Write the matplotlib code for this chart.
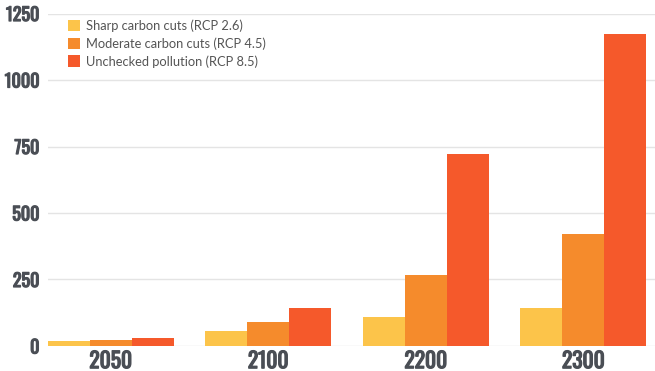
import numpy as np
import matplotlib.pyplot as plt
import matplotlib.patheffects as pe
from matplotlib.patches import Patch

years = ['2050', '2100', '2200', '2300']
rcp26 = [20, 55, 110, 142]
rcp45 = [24, 89, 267, 420]
rcp85 = [30, 143, 721, 1173]
series_names = ['Sharp carbon cuts (RCP 2.6)',
                'Moderate carbon cuts (RCP 4.5)',
                'Unchecked pollution (RCP 8.5)']
colors = ['#fcc44a', '#f58b2c', '#f5592b']
yticks = [0, 250, 500, 750, 1000, 1250]

fig = plt.figure(figsize=(6.55, 3.71), dpi=100)
ax = fig.add_axes([0.0728, 0.0674, 0.9272, 0.8962])

x = np.arange(len(years))
w = 0.267
for i, vals in enumerate([rcp26, rcp45, rcp85]):
    ax.bar(x + (i - 1) * w, vals, width=w, color=colors[i], zorder=3, linewidth=0)

ax.set_xlim(-0.4, 3.455)
ax.set_ylim(0, 1250)
ax.set_yticks(yticks)
ax.set_xticks(x)
ax.set_xticklabels(years)
ax.grid(axis='y', color='#e4e4e4', linewidth=1, zorder=0)
ax.tick_params(length=0)
ax.tick_params(axis='y', pad=6)
ax.tick_params(axis='x', pad=3)
for s in ax.spines.values():
    s.set_visible(False)

# Oswald only has the regular weight here, so thicken it with a stroke
tick_col = '#4a4e55'
bold = [pe.withStroke(linewidth=0.9, foreground=tick_col)]
for lab in ax.get_yticklabels():
    lab.set_family('Oswald')
    lab.set_fontsize(13)
    lab.set_color(tick_col)
    lab.set_path_effects(bold)
for lab in ax.get_xticklabels():
    lab.set_family('Oswald')
    lab.set_fontsize(15.5)
    lab.set_color(tick_col)
    lab.set_path_effects(bold)

handles = [Patch(facecolor=c, edgecolor='none') for c in colors]
ax.legend(handles, series_names, loc='upper left', bbox_to_anchor=(0.02, 1.005),
          frameon=False, prop={'family': 'Lato', 'size': 9.3},
          labelcolor='#555555', handlelength=1.0, handleheight=1.0,
          handletextpad=0.45, labelspacing=0.4, borderaxespad=0.2)

fig.savefig('out.png', dpi=100)
